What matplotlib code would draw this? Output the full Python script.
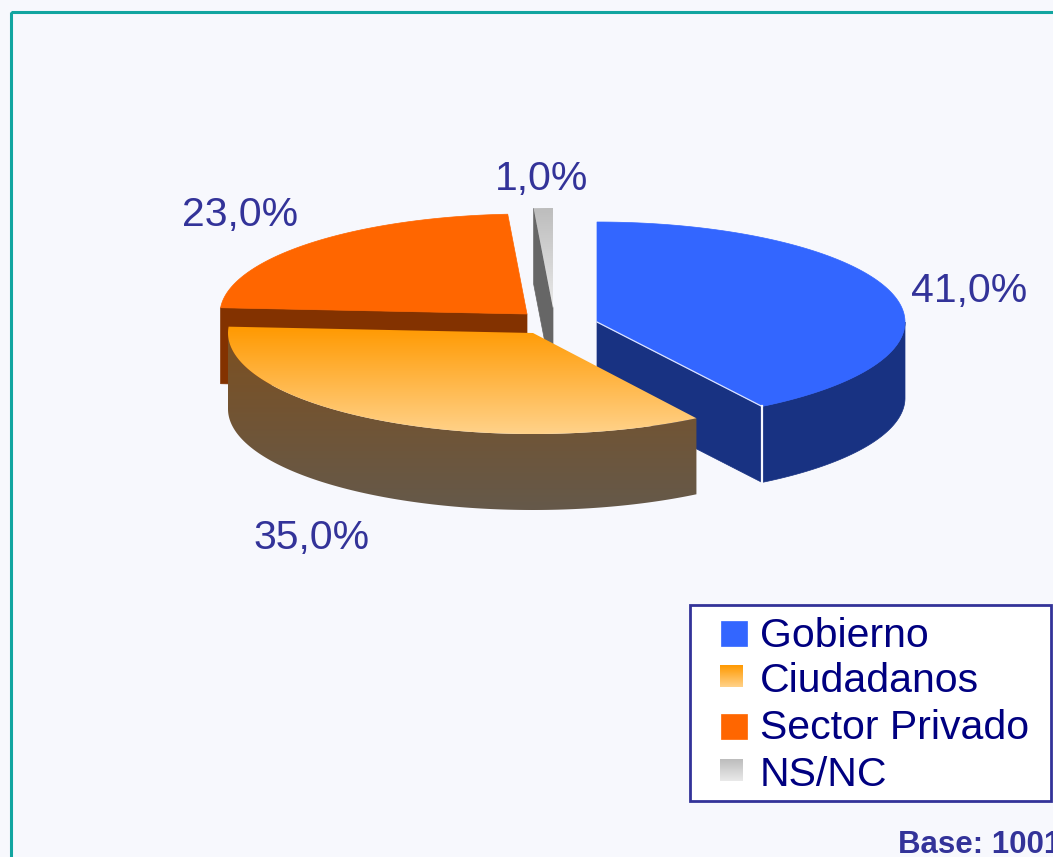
"""Exploded 3D-look pie chart, drawn by hand in pixel coordinates."""

import matplotlib.pyplot as plt
import numpy as np
from matplotlib.colors import LinearSegmentedColormap
from matplotlib.patches import Polygon, Rectangle

plt.rcParams["font.family"] = ["Liberation Sans", "DejaVu Sans"]

CATEGORIES = ["Gobierno", "Ciudadanos", "Sector Privado", "NS/NC"]
VALUES = [41.0, 35.0, 23.0, 1.0]
BASE_TEXT = "Base: 1001"

W, H = 1053, 857
BG = "#F7F8FD"
LABEL_COLOR = "#333399"
LEGEND_TEXT = "#000080"
DEPTH = 76

# apex x, apex y, rx, ry for every slice, same order as CATEGORIES
SLICE_GEOM = [(597, 322, 308, 100), (533, 333, 305, 101), (527, 314, 307, 100), (553, 308, 308, 100)]
TOP_COLORS = [("#3366FF", "#3366FF"), ("#FF9900", "#FFD28A"), ("#FF6600", "#FF6600"), ("#BDBDBD", "#E9E9E9")]
SIDE_COLORS = [("#183282", "#183282"), ("#7D5020", "#65594A"), ("#833200", "#833200"), ("#666666", "#666666")]
LABEL_POS = [(911, 302), (253, 549), (182, 226), (495, 190)]
DRAW_ORDER = [2, 3, 0, 1]


def arc(geom, t0, t1, n=120):
    cx, cy, rx, ry = geom
    t = np.radians(np.linspace(t0, t1, n))
    return np.column_stack([cx + rx * np.sin(t), cy - ry * np.cos(t)])


def gradient_fill(ax, pts, colors, zorder):
    if colors[0] == colors[1]:
        ax.add_patch(Polygon(pts, closed=True, fc=colors[0], ec=colors[0], lw=0.5, zorder=zorder))
        return
    patch = Polygon(pts, closed=True, fc="none", ec="none", zorder=zorder)
    ax.add_patch(patch)
    y0, y1 = pts[:, 1].min(), pts[:, 1].max()
    x0, x1 = pts[:, 0].min(), pts[:, 0].max()
    cmap = LinearSegmentedColormap.from_list("g", colors)
    img = ax.imshow(
        np.linspace(0, 1, 256).reshape(-1, 1),
        extent=(x0, x1, y1, y0),
        cmap=cmap,
        aspect="auto",
        zorder=zorder,
    )
    img.set_clip_path(patch)


def draw_slice(ax, geom, t0, t1, top, side, zorder):
    apex = np.array([[geom[0], geom[1]]])
    down = np.array([0, DEPTH])
    rim = arc(geom, t0, t1)

    # rim side, only the part facing the viewer
    lo, hi = max(t0, 90), min(t1, 270)
    if lo < hi:
        front = arc(geom, lo, hi)
        gradient_fill(ax, np.vstack([front, front[::-1] + down]), side, zorder)

    # cut face, only when it turns toward the viewer
    end = None
    if t1 < 180:
        end = rim[-1:]
    elif t0 > 180:
        end = rim[:1]
    if end is not None:
        face = np.vstack([apex, end, end + down, apex + down])
        gradient_fill(ax, face, side, zorder + 0.1)

    gradient_fill(ax, np.vstack([apex, rim]), top, zorder + 0.2)


fig = plt.figure(figsize=(W / 100, H / 100), dpi=100, facecolor=BG)
ax = fig.add_axes([0, 0, 1, 1])
ax.set_axis_off()

# teal frame, right and bottom sides run off the picture
ax.add_patch(Rectangle((10.5, 11.5), W + 20, H + 20, fc="none", ec="#12A5A0", lw=2.2, zorder=1))

edges = np.concatenate([[0], np.cumsum(VALUES)]) / np.sum(VALUES) * 360
for i in DRAW_ORDER:
    t0, t1 = edges[i], edges[i + 1]
    draw_slice(ax, SLICE_GEOM[i], t0, t1, TOP_COLORS[i], SIDE_COLORS[i], 2 + DRAW_ORDER.index(i))

# thin white highlight on the blue slice's cut edge
blue_end = arc(SLICE_GEOM[0], edges[0], edges[1])[-1]
ax.plot([SLICE_GEOM[0][0], blue_end[0]], [SLICE_GEOM[0][1], blue_end[1]], color="#DDE4FF", lw=0.9, zorder=4.5)
ax.plot([blue_end[0], blue_end[0]], [blue_end[1], blue_end[1] + DEPTH], color="#F7F8FD", lw=1.6, zorder=4.5)

for val, (x, y) in zip(VALUES, LABEL_POS):
    ax.text(x, y, f"{val:.1f}%".replace(".", ","), fontsize=29.5, color=LABEL_COLOR, ha="left", va="baseline", zorder=10)

# legend box
ax.add_patch(Rectangle((690, 604.5), 361, 196, fc="white", ec=LABEL_COLOR, lw=2, zorder=10))
swatches = [(721, 621, 26, 25), (720, 665, 23, 22), (721, 714, 26, 25), (720, 759, 23, 22)]
legend_y = [647, 692, 739, 786]
for name, sw, ty, cols in zip(CATEGORIES, swatches, legend_y, TOP_COLORS):
    x, y, w, h = sw
    gradient_fill(ax, np.array([[x, y], [x + w, y], [x + w, y + h], [x, y + h]], dtype=float), cols, 11)
    ax.text(760, ty, name, fontsize=29.5, color=LEGEND_TEXT, ha="left", va="baseline", zorder=12)

ax.text(898, 853, BASE_TEXT, fontsize=22.5, fontweight="bold", color=LABEL_COLOR, ha="left", va="baseline", zorder=12)

ax.set_xlim(0, W)
ax.set_ylim(H, 0)
fig.savefig("out.png", dpi=100, facecolor=BG)
